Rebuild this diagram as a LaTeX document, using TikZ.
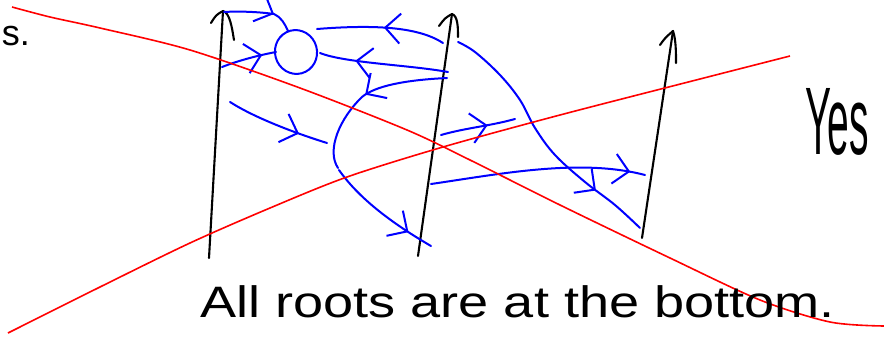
\documentclass[tikz,border=0pt]{standalone}
\usepackage{fontspec}
\setmainfont{Liberation Sans}
\usetikzlibrary{arrows.meta,decorations.markings,shapes.geometric}
\begin{document}
\begin{tikzpicture}[x=1pt,y=-1pt,
 blk/.style={draw=black,line width=2.1pt,line cap=round,line join=round},
 blu/.style={draw=blue,line width=2pt,line cap=round,line join=round},
 rd/.style={draw=red,line width=1.6pt},
 midarr/.style={postaction={decorate},decoration={markings,mark=at position #1 with {\arrow{Straight Barb[length=15pt,width=30pt,line width=2pt,color=blue]}}}},
 hand/.style={font=\fontsize{44}{50}\selectfont, inner sep=0pt}
]
\useasboundingbox[fill=white] (0,0) rectangle (884,340);
% vertical lines
\coordinate (b1) at (209,258); \coordinate (t1) at (223,11);
\coordinate (b2) at (418,256); \coordinate (t2) at (452,14);
\coordinate (b3) at (642,238); \coordinate (t3) at (673,31);
\draw[blk] (b1) -- (t1);
\draw[blk] (b2) -- (t2);
\draw[blk] (b3) -- (t3);
\draw[blk] (211,23) .. controls (216,15) .. (t1) .. controls (230,13) and (232,28) .. (234,40);
\draw[blk] (439,26) .. controls (445,18) .. (t2) .. controls (458,16) and (458,28) .. (458,37);
\draw[blk] (660,45) .. controls (665,38) .. (t3) .. controls (676,40) and (676,52) .. (676,63);
% circle
\node[ellipse, draw=blue, line width=2pt, minimum width=42pt, minimum height=44pt, inner sep=0pt, rotate=15] (c) at (296,52) {};
% blue edges
\draw[blu,midarr=0.69] (224,12) .. controls (240,11) and (260,12) .. (274,14) .. controls (281,17) and (285,24) .. (288,31);
\draw[blu,midarr=0.75] (222,67) .. controls (240,60) and (260,55) .. (276,52);
\draw[blu,midarr=0.48] (443,43) .. controls (420,28) and (380,24) .. (317,29);
\draw[blu,midarr=0.72] (448,72) .. controls (410,65) and (345,63) .. (320,53);
\draw[blu,midarr=0.5] (447,78) .. controls (405,80) and (375,86) .. (362,97) .. controls (340,118) and (326,150) .. (338,168);
\draw[blu,midarr=0.78] (339,170) .. controls (360,200) and (395,225) .. (431,246);
\draw[blu,midarr=0.72] (230,102) .. controls (255,118) and (295,133) .. (327,143);
\draw[blu,midarr=0.63] (441,135) .. controls (465,128) and (490,126) .. (515,119);
\draw[blu,midarr=0.93] (431,184) .. controls (500,174) and (580,158) .. (645,175);
\draw[blu,midarr=0.78] plot[smooth,tension=0.6] coordinates {(458,42) (475,52) (500,75) (520,100) (535,128) (555,155) (585,182) (615,205) (640,228)};
% red lines
\draw[rd] plot[smooth] coordinates {(12,7) (50,17) (100,28) (190,50) (300,88) (407,130) (470,160) (560,205) (670,258) (760,300) (830,322) (884,326)};
\draw[rd] plot[smooth] coordinates {(8,333) (100,287) (190,243) (270,208) (347,177) (443,147) (560,115) (700,79) (790,56)};
% text
\node[hand, anchor=west, xscale=1.23] (txt) at (200,302) {All roots are at the bottom.};
\node[font=\fontsize{60}{64}\selectfont, xscale=0.65, yscale=1.6] (yes) at (837,122) {Yes};
\node[font=\fontsize{36}{40}\selectfont] (s) at (16,36) {s.};
\end{tikzpicture}
\end{document}
